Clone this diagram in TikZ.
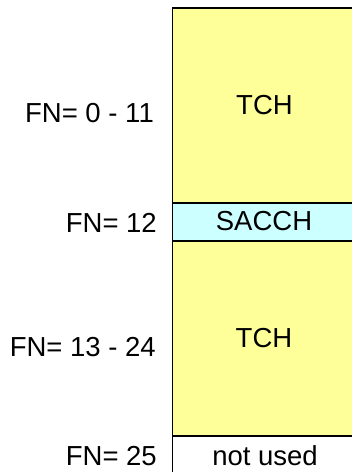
\documentclass[tikz,border=0pt]{standalone}
\usepackage{fontspec}
\setmainfont{Liberation Sans}
\definecolor{tchyellow}{HTML}{FFFF99}
\definecolor{sacchcyan}{HTML}{CCFFFF}
\tikzset{
  cellline/.style={draw=black, line width=1.6pt},
  lbl/.style={font=\fontsize{27.5}{32}\selectfont, inner sep=0pt, anchor=base},
  fnlbl/.style={font=\fontsize{27.5}{32}\selectfont, inner sep=0pt, anchor=base east},
}
\begin{document}
\begin{tikzpicture}[x=1pt,y=-1pt]
\useasboundingbox (0,0) rectangle (352,472);
\clip (0,0) rectangle (352,472);
% cells
\fill[tchyellow] (172.5,8) rectangle (360,203);
\fill[sacchcyan] (172.5,203) rectangle (360,241);
\fill[tchyellow] (172.5,241) rectangle (360,436);
\fill[white] (172.5,436) rectangle (360,480);
\draw[cellline] (360,8) -- (172.5,8) -- (172.5,480);
\draw[cellline] (172.5,203) -- (360,203);
\draw[cellline] (172.5,241) -- (360,241);
\draw[cellline] (172.5,436) -- (360,436);
% cell labels
\node[lbl] (t1) at (264.5,114) {TCH};
\node[lbl] (s1) at (264,230) {SACCH};
\node[lbl] (t2) at (264,347) {TCH};
\node[lbl] (nu) at (265,465) {not used};
% frame number labels
\node[fnlbl] (f1) at (154,122) {FN= 0 - 11};
\node[fnlbl] (f2) at (157,232) {FN= 12};
\node[fnlbl] (f3) at (156,356) {FN= 13 - 24};
\node[fnlbl] (f4) at (157,465) {FN= 25};
\end{tikzpicture}
\end{document}
